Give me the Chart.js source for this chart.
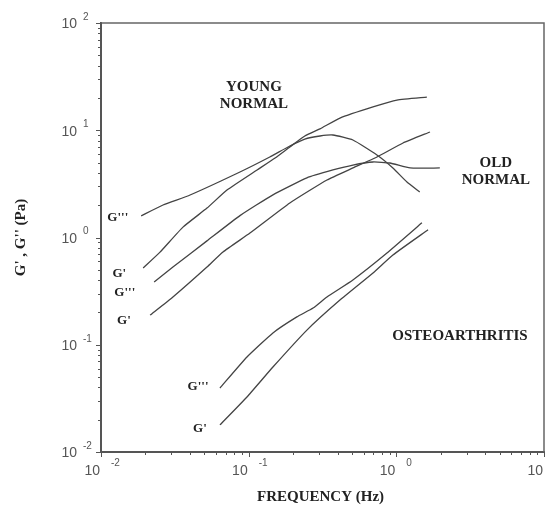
<!DOCTYPE html>
<html>
<head>
<meta charset="utf-8">
<script src="https://cdn.jsdelivr.net/npm/chart.js@4.4.0/dist/chart.umd.min.js"></script>
<style>
  html, body { margin: 0; padding: 0; background: #fff; }
  #wrap { width: 552px; height: 509px; }
</style>
</head>
<body>
<div id="wrap"><canvas id="chart" width="552" height="509"></canvas></div>
<script>
// Frequency (Hz) and modulus (Pa)

// young normal
const youngGppHz = [0.0187, 0.0263, 0.0401, 0.0873, 0.139, 0.190, 0.240, 0.304, 0.372, 0.508, 0.739, 0.948, 1.18, 1.44];
const youngGpp   = [1.59, 2.01, 2.49, 4.08, 5.63, 7.13, 8.28, 8.84, 9.03, 8.11, 5.88, 4.45, 3.29, 2.66];
const youngGpHz  = [0.0193, 0.0251, 0.0359, 0.0522, 0.0713, 0.114, 0.151, 0.190, 0.240, 0.304, 0.415, 0.695, 1.01, 1.61];
const youngGp    = [0.52, 0.73, 1.25, 1.88, 2.77, 4.26, 5.51, 6.98, 8.84, 10.3, 13.0, 16.5, 19.1, 20.4];

// old normal
const oldGppHz = [0.0229, 0.0307, 0.0522, 0.0873, 0.146, 0.248, 0.372, 0.508, 0.695, 0.905, 1.24, 1.97];
const oldGpp   = [0.385, 0.531, 0.93, 1.60, 2.50, 3.60, 4.26, 4.74, 5.06, 4.95, 4.45, 4.45];
const oldGpHz  = [0.0215, 0.0307, 0.0522, 0.067, 0.102, 0.190, 0.339, 0.508, 0.739, 1.11, 1.69];
const oldGp    = [0.189, 0.279, 0.531, 0.733, 1.10, 2.10, 3.44, 4.45, 5.63, 7.61, 9.63];

// osteoarthritis
const oaGppHz = [0.0639, 0.0974, 0.146, 0.212, 0.273, 0.339, 0.508, 0.864, 1.49];
const oaGpp   = [0.0395, 0.0769, 0.129, 0.182, 0.220, 0.279, 0.402, 0.717, 1.37];
const oaGpHz  = [0.0639, 0.0974, 0.146, 0.248, 0.415, 0.695, 0.948, 1.64];
const oaGp    = [0.0179, 0.0326, 0.062, 0.137, 0.261, 0.467, 0.687, 1.18];

// axis decades
const xTickExps = [-2, -1, 0, 1];
const yTickExps = [-2, -1, 0, 1, 2];

// text labels placed in data coordinates
const notes = [
  { lines: ["G'''"], x: 0.0130, y: 1.52, size: 13 },
  { lines: ["G'"], x: 0.0133, y: 0.457, size: 13 },
  { lines: ["G'''"], x: 0.0145, y: 0.304, size: 13 },
  { lines: ["G'"], x: 0.0143, y: 0.167, size: 13 },
  { lines: ["G'''"], x: 0.0454, y: 0.0404, size: 13 },
  { lines: ["G'"], x: 0.0468, y: 0.0164, size: 13 },
  { lines: ["YOUNG", "NORMAL"], x: 0.1086, y: 20.9, size: 15 },
  { lines: ["OLD", "NORMAL"], x: 4.72, y: 4.08, size: 15 },
  { lines: ["OSTEOARTHRITIS"], x: 2.70, y: 0.1207, size: 15 },
];

function pairs(xs, ys) {
  return xs.map((x, i) => ({ x: x, y: ys[i] }));
}

function series(xs, ys) {
  return {
    data: pairs(xs, ys),
    borderColor: "#444",
    borderWidth: 1.3,
    pointRadius: 0,
    fill: false,
    tension: 0.15,
  };
}

const serif = "'Liberation Serif', 'DejaVu Serif', serif";
const sans = "'Liberation Sans', Arial, sans-serif";

// frame, tick marks, power-of-ten labels, titles and curve labels
const decoration = {
  id: "decoration",
  afterDraw(chart) {
    const ctx = chart.ctx;
    const area = chart.chartArea;
    const xs = chart.scales.x;
    const ys = chart.scales.y;
    ctx.save();

    // top and right sides of the box
    ctx.strokeStyle = "#666";
    ctx.lineWidth = 1.5;
    ctx.beginPath();
    ctx.moveTo(area.left, area.top);
    ctx.lineTo(area.right, area.top);
    ctx.lineTo(area.right, area.bottom);
    ctx.stroke();

    // tick marks
    ctx.strokeStyle = "#555";
    ctx.lineWidth = 1;
    ctx.beginPath();
    xTickExps.forEach((e) => {
      for (let s = 1; s <= 9; s++) {
        const v = s * Math.pow(10, e);
        if (v > xs.max * 1.0001) break;
        const px = Math.round(xs.getPixelForValue(v)) + 0.5;
        const len = s === 1 ? 5 : 3;
        ctx.moveTo(px, area.bottom);
        ctx.lineTo(px, area.bottom + len);
      }
    });
    yTickExps.forEach((e) => {
      for (let s = 1; s <= 9; s++) {
        const v = s * Math.pow(10, e);
        if (v > ys.max * 1.0001) break;
        const py = Math.round(ys.getPixelForValue(v)) + 0.5;
        const len = s === 1 ? 5 : 3;
        ctx.moveTo(area.left - len, py);
        ctx.lineTo(area.left + 1, py);
      }
    });
    ctx.stroke();

    // tick labels, 10 with a raised exponent
    ctx.fillStyle = "#555";
    yTickExps.forEach((e) => {
      const py = ys.getPixelForValue(Math.pow(10, e));
      ctx.font = "14px " + sans;
      ctx.textAlign = "right";
      ctx.textBaseline = "middle";
      ctx.fillText("10", area.left - 24, py + 1.5);
      ctx.font = "10px " + sans;
      ctx.textAlign = "left";
      ctx.fillText(String(e), area.left - 18, py - 6);
    });
    xTickExps.forEach((e) => {
      const px = xs.getPixelForValue(Math.pow(10, e));
      ctx.font = "14px " + sans;
      ctx.textAlign = "right";
      ctx.textBaseline = "middle";
      ctx.fillText("10", px - 1, area.bottom + 19);
      ctx.font = "10px " + sans;
      ctx.textAlign = "left";
      ctx.fillText(String(e), px + 10, area.bottom + 11);
    });

    // axis titles
    ctx.fillStyle = "#222";
    ctx.font = "bold 15px " + serif;
    ctx.textAlign = "center";
    ctx.textBaseline = "middle";
    ctx.fillText("FREQUENCY (Hz)", (area.left + area.right) / 2 - 2, area.bottom + 45);
    ctx.save();
    ctx.translate(21, (area.top + area.bottom) / 2);
    ctx.rotate(-Math.PI / 2);
    ctx.font = "bold 15px " + serif;
    ctx.fillText("G' , G'' (Pa)", 0, 0);
    ctx.restore();

    // curve and group labels
    notes.forEach((n) => {
      ctx.font = "bold " + n.size + "px " + serif;
      const cx = xs.getPixelForValue(n.x);
      const cy = ys.getPixelForValue(n.y);
      const lh = 17;
      const y0 = cy - ((n.lines.length - 1) * lh) / 2;
      n.lines.forEach((t, i) => ctx.fillText(t, cx, y0 + i * lh));
    });

    ctx.restore();
  },
};

const chart = new Chart(document.getElementById("chart"), {
  type: "line",
  data: {
    datasets: [
      series(youngGppHz, youngGpp),
      series(youngGpHz, youngGp),
      series(oldGppHz, oldGpp),
      series(oldGpHz, oldGp),
      series(oaGppHz, oaGpp),
      series(oaGpHz, oaGp),
    ],
  },
  options: {
    responsive: false,
    devicePixelRatio: 1,
    animation: false,
    layout: { padding: { top: 23, right: 8, left: 0, bottom: 0 } },
    plugins: {
      legend: { display: false },
      tooltip: { enabled: false },
    },
    scales: {
      x: {
        type: "logarithmic",
        min: 0.01,
        max: 10,
        grid: { display: false },
        ticks: { display: false },
        border: { display: true, color: "#555", width: 2 },
        afterFit: (scale) => { scale.height = 57; },
      },
      y: {
        type: "logarithmic",
        min: 0.01,
        max: 100,
        grid: { display: false },
        ticks: { display: false },
        border: { display: true, color: "#555", width: 2 },
        afterFit: (scale) => { scale.width = 101; },
      },
    },
  },
  plugins: [decoration],
});
</script>
</body>
</html>
